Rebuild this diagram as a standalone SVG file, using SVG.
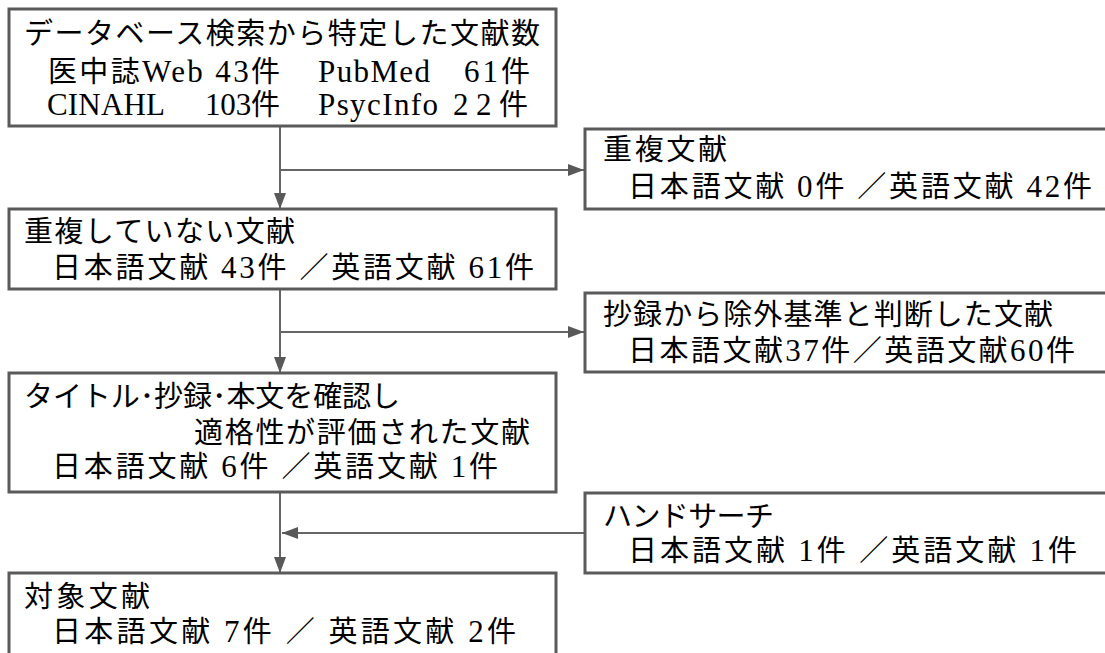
<svg xmlns="http://www.w3.org/2000/svg" width="1105" height="653" viewBox="0 0 1105 653">
<style>
.box{fill:#fff;stroke:#5a5a5a;stroke-width:3}
.con{fill:none;stroke:#666;stroke-width:2}
text{font-family:"Liberation Serif","Noto Sans CJK JP",serif;font-size:29px;fill:#000}
.l{font-size:31px}
</style>
<defs>
<marker id="ah" markerUnits="userSpaceOnUse" markerWidth="16" markerHeight="12" refX="16" refY="6" orient="auto">
<path d="M0,0 L16,6 L0,12 Z" fill="#595959"/>
</marker>
</defs>
<rect width="1105" height="653" fill="#fff"/>
<g id="connectors">
<path class="con" d="M280,126 L280,209" marker-end="url(#ah)"/>
<path class="con" d="M280,170 L584,170" marker-end="url(#ah)"/>
<path class="con" d="M280,289 L280,373" marker-end="url(#ah)"/>
<path class="con" d="M280,332 L584,332" marker-end="url(#ah)"/>
<path class="con" d="M280,492 L280,573" marker-end="url(#ah)"/>
<path class="con" d="M585,533 L282,533" marker-end="url(#ah)"/>
</g>
<g id="n1">
<rect class="box" x="9" y="9" width="547" height="117"/>
<text x="24" y="44" textLength="516" lengthAdjust="spacing">データベース検索から特定した文献数</text>
<text x="48" y="82" textLength="232" lengthAdjust="spacing">医中誌<tspan class="l">Web 43</tspan>件</text>
<text class="l" x="318" y="82" textLength="112" lengthAdjust="spacing">PubMed</text>
<text x="464" y="82" textLength="66" lengthAdjust="spacing"><tspan class="l">61</tspan>件</text>
<text class="l" x="47" y="115" textLength="118" lengthAdjust="spacing">CINAHL</text>
<text x="205" y="115" textLength="75" lengthAdjust="spacing"><tspan class="l">103</tspan>件</text>
<text class="l" x="318" y="115" textLength="120" lengthAdjust="spacing">PsycInfo</text>
<text x="453" y="115" textLength="75" lengthAdjust="spacing"><tspan class="l">22</tspan>件</text>
</g>
<g id="n2">
<rect class="box" x="585" y="129" width="530" height="80"/>
<text x="603" y="160" textLength="124" lengthAdjust="spacing">重複文献</text>
<text x="628" y="197" textLength="464" lengthAdjust="spacing">日本語文献 <tspan class="l">0</tspan>件 ／英語文献 <tspan class="l">42</tspan>件</text>
</g>
<g id="n3">
<rect class="box" x="9" y="209" width="547" height="80"/>
<text x="24" y="242" textLength="271" lengthAdjust="spacing">重複していない文献</text>
<text x="52" y="278" textLength="482" lengthAdjust="spacing">日本語文献 <tspan class="l">43</tspan>件 ／英語文献 <tspan class="l">61</tspan>件</text>
</g>
<g id="n4">
<rect class="box" x="585" y="293" width="530" height="79"/>
<text x="603" y="325" textLength="450" lengthAdjust="spacing">抄録から除外基準と判断した文献</text>
<text x="628" y="361" textLength="447" lengthAdjust="spacing">日本語文献<tspan class="l">37</tspan>件／英語文献<tspan class="l">60</tspan>件</text>
</g>
<g id="n5">
<rect class="box" x="9" y="373" width="547" height="119"/>
<text x="24" y="407" textLength="376" lengthAdjust="spacing">タイトル･抄録･本文を確認し</text>
<text x="194" y="443" textLength="336" lengthAdjust="spacing">適格性が評価された文献</text>
<text x="52" y="477" textLength="446" lengthAdjust="spacing">日本語文献 <tspan class="l">6</tspan>件 ／英語文献 <tspan class="l">1</tspan>件</text>
</g>
<g id="n6">
<rect class="box" x="585" y="493" width="530" height="80"/>
<text x="603" y="527" textLength="171" lengthAdjust="spacing">ハンドサーチ</text>
<text x="628" y="561" textLength="449" lengthAdjust="spacing">日本語文献 <tspan class="l">1</tspan>件 ／英語文献 <tspan class="l">1</tspan>件</text>
</g>
<g id="n7">
<rect class="box" x="9" y="573" width="547" height="95"/>
<text x="24" y="607" textLength="126" lengthAdjust="spacing">対象文献</text>
<text x="52" y="642" textLength="464" lengthAdjust="spacing">日本語文献 <tspan class="l">7</tspan>件 ／ 英語文献 <tspan class="l">2</tspan>件</text>
</g>
</svg>
